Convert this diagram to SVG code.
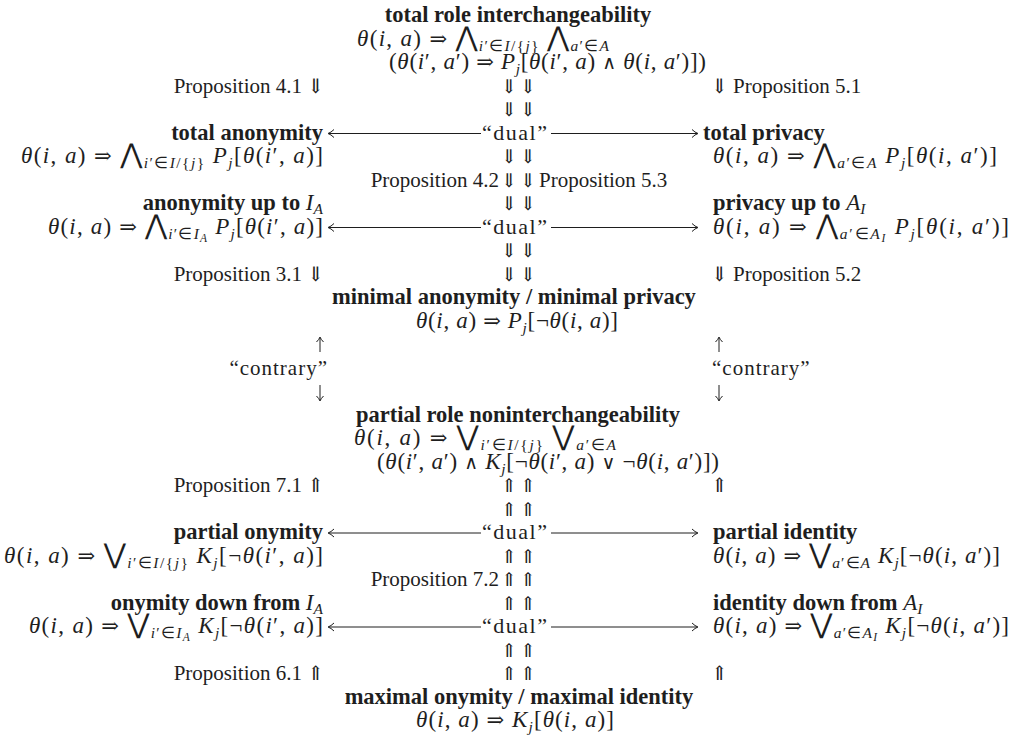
<svg xmlns="http://www.w3.org/2000/svg" width="1011" height="738" viewBox="0 0 1011 738">
<style>
text{font-family:"Liberation Serif",serif;font-size:21px;fill:#1e1e1e}
.h{font-weight:bold;font-size:22.5px}
.n{font-weight:normal}
.m{font-size:23px}
.i{font-style:italic}
.s{font-size:15.5px}
.ss{font-size:11.5px}
.op{font-family:"DejaVu Serif","DejaVu Sans",serif;font-size:27px}
.a{font-family:"DejaVu Serif","DejaVu Sans",serif;font-size:20px}
.dd{font-family:"DejaVu Serif","DejaVu Sans",serif;font-size:19px;letter-spacing:3px}
.r{font-family:"DejaVu Serif","DejaVu Sans",serif;font-size:21px}
.lg{font-family:"DejaVu Serif","DejaVu Sans",serif;font-size:19px}
.du{font-size:22px;letter-spacing:1.5px}
.ct{font-size:21px;letter-spacing:1px}
.c{text-anchor:middle}
.e{text-anchor:end}
.ln{stroke:#1e1e1e;stroke-width:1;fill:none}
</style>
<rect width="1011" height="738" fill="#ffffff"/>

<g id="node-total-role">
<text class="h c" x="518" y="22">total role interchangeability</text>
<text class="m" x="357" y="45.5" textLength="252" lengthAdjust="spacing"><tspan class="i">θ</tspan>(<tspan class="i">i</tspan>, <tspan class="i">a</tspan>) <tspan class="r">⇒</tspan> <tspan class="op">⋀</tspan><tspan class="s" dy="5"><tspan class="i">i</tspan>′∈<tspan class="i">I</tspan>/{<tspan class="i">j</tspan>}</tspan><tspan dy="-5"> </tspan><tspan class="op">⋀</tspan><tspan class="s" dy="5"><tspan class="i">a</tspan>′∈<tspan class="i">A</tspan></tspan></text>
<text class="m" x="389" y="69" textLength="317" lengthAdjust="spacing">(<tspan class="i">θ</tspan>(<tspan class="i">i</tspan>′, <tspan class="i">a</tspan>′) <tspan class="r">⇒</tspan> <tspan class="i">P</tspan><tspan class="s i" dy="5">j</tspan><tspan dy="-5">[</tspan><tspan class="i">θ</tspan>(<tspan class="i">i</tspan>′, <tspan class="i">a</tspan>) <tspan class="lg">∧</tspan> <tspan class="i">θ</tspan>(<tspan class="i">i</tspan>, <tspan class="i">a</tspan>′)])</text>
</g>

<g id="node-total-anonymity">
<text class="h e" x="323" y="139.5">total anonymity</text>
<text class="m e" x="323" y="163" textLength="302" lengthAdjust="spacing"><tspan class="i">θ</tspan>(<tspan class="i">i</tspan>, <tspan class="i">a</tspan>) <tspan class="r">⇒</tspan> <tspan class="op">⋀</tspan><tspan class="s" dy="5"><tspan class="i">i</tspan>′∈<tspan class="i">I</tspan>/{<tspan class="i">j</tspan>}</tspan><tspan dy="-5"> </tspan><tspan class="i">P</tspan><tspan class="s i" dy="5">j</tspan><tspan dy="-5">[</tspan><tspan class="i">θ</tspan>(<tspan class="i">i</tspan>′, <tspan class="i">a</tspan>)]</text>
</g>

<g id="node-total-privacy">
<text class="h" x="703" y="139.5">total privacy</text>
<text class="m" x="713" y="163" textLength="284" lengthAdjust="spacing"><tspan class="i">θ</tspan>(<tspan class="i">i</tspan>, <tspan class="i">a</tspan>) <tspan class="r">⇒</tspan> <tspan class="op">⋀</tspan><tspan class="s" dy="5"><tspan class="i">a</tspan>′∈<tspan class="i">A</tspan></tspan><tspan dy="-5"> </tspan><tspan class="i">P</tspan><tspan class="s i" dy="5">j</tspan><tspan dy="-5">[</tspan><tspan class="i">θ</tspan>(<tspan class="i">i</tspan>, <tspan class="i">a</tspan>′)]</text>
</g>

<g id="node-anonymity-up-to">
<text class="h e" x="323" y="210">anonymity up to <tspan class="m i n">I</tspan><tspan class="s i n" dy="4">A</tspan></text>
<text class="m e" x="323" y="233.5" textLength="275" lengthAdjust="spacing"><tspan class="i">θ</tspan>(<tspan class="i">i</tspan>, <tspan class="i">a</tspan>) <tspan class="r">⇒</tspan> <tspan class="op">⋀</tspan><tspan class="s" dy="5"><tspan class="i">i</tspan>′∈<tspan class="i">I</tspan></tspan><tspan class="ss i" dy="3">A</tspan><tspan dy="-8"> </tspan><tspan class="i">P</tspan><tspan class="s i" dy="5">j</tspan><tspan dy="-5">[</tspan><tspan class="i">θ</tspan>(<tspan class="i">i</tspan>′, <tspan class="i">a</tspan>)]</text>
</g>

<g id="node-privacy-up-to">
<text class="h" x="713" y="210">privacy up to <tspan class="m i n">A</tspan><tspan class="s i n" dy="4">I</tspan></text>
<text class="m" x="713" y="233.5" textLength="296" lengthAdjust="spacing"><tspan class="i">θ</tspan>(<tspan class="i">i</tspan>, <tspan class="i">a</tspan>) <tspan class="r">⇒</tspan> <tspan class="op">⋀</tspan><tspan class="s" dy="5"><tspan class="i">a</tspan>′∈<tspan class="i">A</tspan></tspan><tspan class="ss i" dy="3">I</tspan><tspan dy="-8"> </tspan><tspan class="i">P</tspan><tspan class="s i" dy="5">j</tspan><tspan dy="-5">[</tspan><tspan class="i">θ</tspan>(<tspan class="i">i</tspan>, <tspan class="i">a</tspan>′)]</text>
</g>

<g id="node-minimal">
<text class="h c" x="514" y="304">minimal anonymity / minimal privacy</text>
<text class="m" x="416" y="327.5" textLength="202" lengthAdjust="spacing"><tspan class="i">θ</tspan>(<tspan class="i">i</tspan>, <tspan class="i">a</tspan>) <tspan class="r">⇒</tspan> <tspan class="i">P</tspan><tspan class="s i" dy="5">j</tspan><tspan dy="-5">[¬</tspan><tspan class="i">θ</tspan>(<tspan class="i">i</tspan>, <tspan class="i">a</tspan>)]</text>
</g>

<g id="node-partial-role">
<text class="h c" x="518" y="421.5">partial role noninterchangeability</text>
<text class="m" x="354" y="445" textLength="262" lengthAdjust="spacing"><tspan class="i">θ</tspan>(<tspan class="i">i</tspan>, <tspan class="i">a</tspan>) <tspan class="r">⇒</tspan> <tspan class="op">⋁</tspan><tspan class="s" dy="5"><tspan class="i">i</tspan>′∈<tspan class="i">I</tspan>/{<tspan class="i">j</tspan>}</tspan><tspan dy="-5"> </tspan><tspan class="op">⋁</tspan><tspan class="s" dy="5"><tspan class="i">a</tspan>′∈<tspan class="i">A</tspan></tspan></text>
<text class="m" x="377" y="468.5" textLength="342" lengthAdjust="spacing">(<tspan class="i">θ</tspan>(<tspan class="i">i</tspan>′, <tspan class="i">a</tspan>′) <tspan class="lg">∧</tspan> <tspan class="i">K</tspan><tspan class="s i" dy="5">j</tspan><tspan dy="-5">[¬</tspan><tspan class="i">θ</tspan>(<tspan class="i">i</tspan>′, <tspan class="i">a</tspan>) <tspan class="lg">∨</tspan> ¬<tspan class="i">θ</tspan>(<tspan class="i">i</tspan>, <tspan class="i">a</tspan>′)])</text>
</g>

<g id="node-partial-onymity">
<text class="h e" x="323" y="539">partial onymity</text>
<text class="m e" x="323" y="562.5" textLength="319" lengthAdjust="spacing"><tspan class="i">θ</tspan>(<tspan class="i">i</tspan>, <tspan class="i">a</tspan>) <tspan class="r">⇒</tspan> <tspan class="op">⋁</tspan><tspan class="s" dy="5"><tspan class="i">i</tspan>′∈<tspan class="i">I</tspan>/{<tspan class="i">j</tspan>}</tspan><tspan dy="-5"> </tspan><tspan class="i">K</tspan><tspan class="s i" dy="5">j</tspan><tspan dy="-5">[¬</tspan><tspan class="i">θ</tspan>(<tspan class="i">i</tspan>′, <tspan class="i">a</tspan>)]</text>
</g>

<g id="node-partial-identity">
<text class="h" x="713" y="539">partial identity</text>
<text class="m" x="713" y="562.5" textLength="287" lengthAdjust="spacing"><tspan class="i">θ</tspan>(<tspan class="i">i</tspan>, <tspan class="i">a</tspan>) <tspan class="r">⇒</tspan> <tspan class="op">⋁</tspan><tspan class="s" dy="5"><tspan class="i">a</tspan>′∈<tspan class="i">A</tspan></tspan><tspan dy="-5"> </tspan><tspan class="i">K</tspan><tspan class="s i" dy="5">j</tspan><tspan dy="-5">[¬</tspan><tspan class="i">θ</tspan>(<tspan class="i">i</tspan>, <tspan class="i">a</tspan>′)]</text>
</g>

<g id="node-onymity-down-from">
<text class="h e" x="323" y="609.5">onymity down from <tspan class="m i n">I</tspan><tspan class="s i n" dy="4">A</tspan></text>
<text class="m e" x="323" y="633" textLength="294" lengthAdjust="spacing"><tspan class="i">θ</tspan>(<tspan class="i">i</tspan>, <tspan class="i">a</tspan>) <tspan class="r">⇒</tspan> <tspan class="op">⋁</tspan><tspan class="s" dy="5"><tspan class="i">i</tspan>′∈<tspan class="i">I</tspan></tspan><tspan class="ss i" dy="3">A</tspan><tspan dy="-8"> </tspan><tspan class="i">K</tspan><tspan class="s i" dy="5">j</tspan><tspan dy="-5">[¬</tspan><tspan class="i">θ</tspan>(<tspan class="i">i</tspan>′, <tspan class="i">a</tspan>)]</text>
</g>

<g id="node-identity-down-from">
<text class="h" x="713" y="609.5">identity down from <tspan class="m i n">A</tspan><tspan class="s i n" dy="4">I</tspan></text>
<text class="m" x="713" y="633" textLength="296" lengthAdjust="spacing"><tspan class="i">θ</tspan>(<tspan class="i">i</tspan>, <tspan class="i">a</tspan>) <tspan class="r">⇒</tspan> <tspan class="op">⋁</tspan><tspan class="s" dy="5"><tspan class="i">a</tspan>′∈<tspan class="i">A</tspan></tspan><tspan class="ss i" dy="3">I</tspan><tspan dy="-8"> </tspan><tspan class="i">K</tspan><tspan class="s i" dy="5">j</tspan><tspan dy="-5">[¬</tspan><tspan class="i">θ</tspan>(<tspan class="i">i</tspan>, <tspan class="i">a</tspan>′)]</text>
</g>

<g id="node-maximal">
<text class="h c" x="519" y="703.5">maximal onymity / maximal identity</text>
<text class="m" x="416" y="727" textLength="198" lengthAdjust="spacing"><tspan class="i">θ</tspan>(<tspan class="i">i</tspan>, <tspan class="i">a</tspan>) <tspan class="r">⇒</tspan> <tspan class="i">K</tspan><tspan class="s i" dy="5">j</tspan><tspan dy="-5">[</tspan><tspan class="i">θ</tspan>(<tspan class="i">i</tspan>, <tspan class="i">a</tspan>)]</text>
</g>

<g id="connectors">
<path class="ln" d="M481,133.5H329M334,129.5Q331,132.5 328,133.5Q331,134.5 334,137.5M551,133.5H697M692,129.5Q695,132.5 698,133.5Q695,134.5 692,137.5"/>
<path class="ln" d="M481,227.5H329M334,223.5Q331,226.5 328,227.5Q331,228.5 334,231.5M551,227.5H697M692,223.5Q695,226.5 698,227.5Q695,228.5 692,231.5"/>
<path class="ln" d="M481,533H329M334,529Q331,532 328,533Q331,534 334,537M551,533H697M692,529Q695,532 698,533Q695,534 692,537"/>
<path class="ln" d="M481,627H329M334,623Q331,626 328,627Q331,628 334,631M551,627H697M692,623Q695,626 698,627Q695,628 692,631"/>
<text class="du" x="482" y="139.5">“dual”</text>
<text class="du" x="482" y="233.5">“dual”</text>
<text class="du" x="482" y="539">“dual”</text>
<text class="du" x="482" y="633">“dual”</text>

<text class="dd c" x="520" y="92.5">⇓⇓</text>
<text class="dd c" x="520" y="116">⇓⇓</text>
<text class="dd c" x="520" y="163">⇓⇓</text>
<text class="dd c" x="520" y="186.5">⇓⇓</text>
<text class="dd c" x="520" y="210">⇓⇓</text>
<text class="dd c" x="520" y="257">⇓⇓</text>
<text class="dd c" x="520" y="280.5">⇓⇓</text>
<text class="dd c" x="520" y="492">⇑⇑</text>
<text class="dd c" x="520" y="515.5">⇑⇑</text>
<text class="dd c" x="520" y="562.5">⇑⇑</text>
<text class="dd c" x="520" y="586">⇑⇑</text>
<text class="dd c" x="520" y="609.5">⇑⇑</text>
<text class="dd c" x="520" y="656.5">⇑⇑</text>
<text class="dd c" x="520" y="680">⇑⇑</text>

<text class="e" x="324" y="92.5">Proposition 4.1 <tspan class="a">⇓</tspan></text>
<text x="711" y="92.5"><tspan class="a">⇓</tspan> Proposition 5.1</text>
<text class="e" x="499" y="186.5">Proposition 4.2</text>
<text x="539" y="186.5">Proposition 5.3</text>
<text class="e" x="324" y="280.5">Proposition 3.1 <tspan class="a">⇓</tspan></text>
<text x="711" y="280.5"><tspan class="a">⇓</tspan> Proposition 5.2</text>
<text class="e" x="324" y="492">Proposition 7.1 <tspan class="a">⇑</tspan></text>
<text class="a" x="711" y="492">⇑</text>
<text class="e" x="499" y="586">Proposition 7.2</text>
<text class="e" x="324" y="680">Proposition 6.1 <tspan class="a">⇑</tspan></text>
<text class="a" x="711" y="680">⇑</text>

<path class="ln" d="M320,352V338M316.5,342Q319,339.5 320,337Q321,339.5 323.5,342M320,385V400M316.5,396Q319,398.5 320,401Q321,398.5 323.5,396"/>
<path class="ln" d="M719,352V338M715.5,342Q718,339.5 719,337Q720,339.5 722.5,342M719,385V400M715.5,396Q718,398.5 719,401Q720,398.5 722.5,396"/>
<text class="ct e" x="328" y="374.5">“contrary”</text>
<text class="ct" x="712" y="374.5">“contrary”</text>
</g>
</svg>
